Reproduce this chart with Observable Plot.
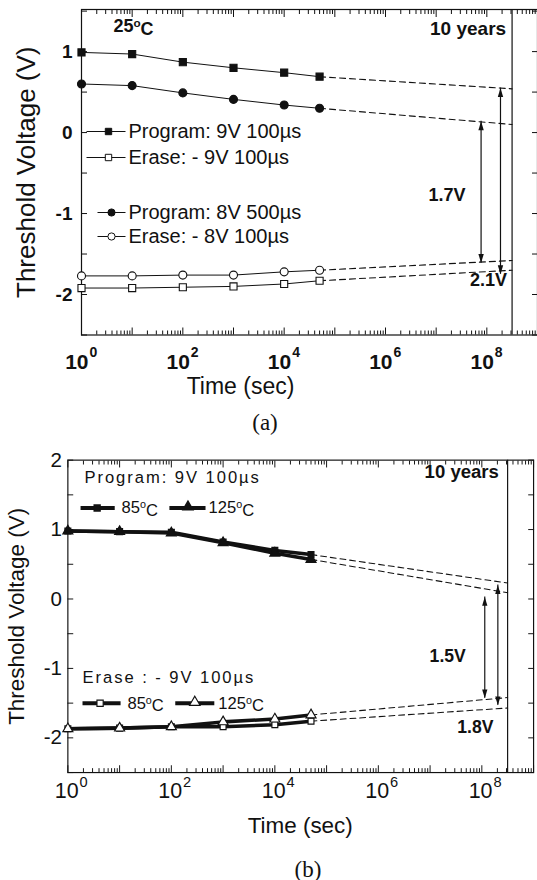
<!DOCTYPE html>
<html><head><meta charset="utf-8">
<script src="https://cdn.jsdelivr.net/npm/d3@7"></script>
<script src="https://cdn.jsdelivr.net/npm/@observablehq/plot@0.6"></script>
<style>
html,body{margin:0;padding:0;background:#fff;overflow:hidden;width:537px;height:880px}
#wrap{position:relative;width:537px;height:880px;overflow:hidden}
.cap{position:absolute;font-family:"Liberation Serif","Times New Roman",serif;font-size:23px;line-height:1;transform:translate(-50%,-50%);color:#111;white-space:nowrap;z-index:2}
svg{display:block}
</style></head><body>
<div id="wrap">
 <div id="a" style="position:absolute;left:0;top:0"></div>
 <div id="b" style="position:absolute;left:0;top:445px"></div>
 <div class="cap" style="left:265px;top:422px">(a)</div>
 <div class="cap" style="left:308px;top:869px">(b)</div>
</div>
<script>
// ---------- shared data ----------
const times = [1, 10, 100, 1000, 10000, 50000];
const tenYears = 3.15e8;
const xLabelValues = [1, 1e2, 1e4, 1e6, 1e8];
const xLabelExponents = ["0", "2", "4", "6", "8"];

// ---------- panel (a) ----------
const seriesA = ["Program: 9V 100µs", "Erase: - 9V 100µs", "Program: 8V 500µs", "Erase: - 8V 100µs"];
const program9V = [0.99, 0.97, 0.87, 0.80, 0.74, 0.69];
const erase9V = [-1.92, -1.92, -1.91, -1.90, -1.87, -1.83];
const program8V = [0.60, 0.58, 0.49, 0.41, 0.34, 0.30];
const erase8V = [-1.77, -1.77, -1.76, -1.76, -1.72, -1.70];
const tenYearA = [0.54, -1.70, 0.10, -1.58];
const arrowTimeA = [7.7e7, 1.86e8];
const arrowTopA = [0.14, 0.55];
const arrowBottomA = [-1.61, -1.75];
const arrowLabelA = ["1.7V", "2.1V"];
const yLabelsA = [-2, -1, 0, 1];
const yTicksA = [-2.5, -2, -1.5, -1, -0.5, 0, 0.5, 1, 1.5];
const tempLabelA = "25°C";

// ---------- panel (b) ----------
const seriesB = ["Program 85°C", "Program 125°C", "Erase 85°C", "Erase 125°C"];
const program85 = [0.98, 0.97, 0.96, 0.82, 0.70, 0.64];
const program125 = [0.98, 0.97, 0.95, 0.81, 0.66, 0.57];
const erase85 = [-1.87, -1.86, -1.84, -1.84, -1.81, -1.76];
const erase125 = [-1.87, -1.86, -1.84, -1.77, -1.73, -1.67];
const tenYearB = [0.23, 0.09, -1.57, -1.42];
const arrowTimeB = [1.14e8, 2.04e8];
const arrowTopB = [0.03, 0.20];
const arrowBottomB = [-1.43, -1.53];
const arrowLabelB = ["1.5V", "1.8V"];
const legendTitlesB = ["Program: 9V 100µs", "Erase : - 9V 100µs"];
const legendTempsB = ["85°C", "125°C"];
const yLabelsB = [-2, -1, 0, 1, 2];
const yTicksB = [-2.5, -2, -1.5, -1, -0.5, 0, 0.5, 1, 1.5, 2];

const yTitle = "Threshold Voltage (V)";
const xTitle = "Time (sec)";
const tenYearsLabel = "10 years";

// ---------- helpers ----------
const FONT = "'Liberation Sans', Arial, Helvetica, sans-serif";
const INK = "#111";
const xMajor = d3.range(0, 10).map(k => 10 ** k);
const xMinor = d3.range(0, 9).flatMap(k => d3.range(2, 10).map(m => m * 10 ** k));

function tidy(series, values) {
  return series.flatMap((s, i) => values[i].map((v, j) => ({series: s, t: times[j], v})));
}
function tails(series, values, ends) {
  return series.flatMap((s, i) => [
    {series: s, t: times[times.length - 1], v: values[i][values[i].length - 1]},
    {series: s, t: tenYears, v: ends[i]}
  ]);
}
function arrowRows(ts, tops, bottoms, labels) {
  return ts.map((t, i) => ({t, top: tops[i], bottom: bottoms[i], mid: (tops[i] + bottoms[i]) / 2, label: labels[i]}));
}
const headUp = {draw(c) { c.moveTo(0, 0); c.lineTo(-2.7, 9); c.lineTo(2.7, 9); c.closePath(); }};
const headDown = {draw(c) { c.moveTo(0, 0); c.lineTo(-2.7, -9); c.lineTo(2.7, -9); c.closePath(); }};
const hline = h => ({draw(c) { c.moveTo(-h, 0); c.lineTo(h, 0); }});
// text anchored to the frame, always centred on its line
const ftext = (data, o) => Plot.text(data, {lineAnchor: "middle", textAnchor: "middle", ...o});

function frameTicks(yTicks) {
  const none = () => "";
  return [
    Plot.axisX(xMajor, {anchor: "bottom", tickSize: -7, tickFormat: none, label: null}),
    Plot.axisX(xMinor, {anchor: "bottom", tickSize: -4, tickFormat: none, label: null}),
    Plot.axisX(xMajor, {anchor: "top", tickSize: -7, tickFormat: none, label: null}),
    Plot.axisX(xMinor, {anchor: "top", tickSize: -4, tickFormat: none, label: null}),
    Plot.axisY(yTicks, {anchor: "left", tickSize: -6, tickFormat: none, label: null}),
    Plot.axisY(yTicks, {anchor: "right", tickSize: -6, tickFormat: none, label: null})
  ];
}
function arrowMarks(arr) {
  return [
    Plot.ruleX(arr, {x: "t", y1: "top", y2: "bottom", stroke: INK, strokeWidth: 1.2}),
    Plot.dot(arr, {x: "t", y: "top", symbol: headUp, fill: INK, stroke: "none"}),
    Plot.dot(arr, {x: "t", y: "bottom", symbol: headDown, fill: INK, stroke: "none"})
  ];
}

// ---------- panel (a) ----------
const valuesA = [program9V, erase9V, program8V, erase8V];
const rowsA = tidy(seriesA, valuesA);
const tailsA = tails(seriesA, valuesA, tenYearA);
const arrowsA = arrowRows(arrowTimeA, arrowTopA, arrowBottomA, arrowLabelA);
const symA = ["square", "square", "circle", "circle"];
const fillA = [INK, "white", INK, "white"];

const marksA = [
  ...frameTicks(yTicksA),
  Plot.frame({stroke: INK, strokeWidth: 1.2}),
  Plot.ruleX([tenYears], {stroke: INK, strokeWidth: 1.2}),
  Plot.line(rowsA, {x: "t", y: "v", z: "series", stroke: INK, strokeWidth: 1}),
  Plot.line(tailsA, {x: "t", y: "v", z: "series", stroke: INK, strokeWidth: 1.1, strokeDasharray: "6,4"}),
  ...seriesA.map((s, i) => Plot.dot(rowsA.filter(d => d.series === s), {
    x: "t", y: "v", symbol: symA[i], r: 4, fill: fillA[i], stroke: INK, strokeWidth: 1.1})),
  ...arrowMarks(arrowsA),
  Plot.text([arrowsA[0]], {x: "t", y: "mid", text: "label", dx: -34, dy: 3, fontSize: 18, fontWeight: "bold"}),
  Plot.text([arrowsA[1]], {x: "t", y: "bottom", text: "label", dx: -12, dy: 6, fontSize: 18, fontWeight: "bold"}),
  ftext([tenYears], {x: d => d, frameAnchor: "top", text: () => tenYearsLabel, dx: -44, dy: 19, fontSize: 19, fontWeight: "bold"}),
  ftext([tempLabelA], {frameAnchor: "top-left", text: d => d, dx: 52, dy: 17, fontSize: 18, fontWeight: "bold"}),
  // legend
  ...seriesA.flatMap((s, i) => {
    const dy = [122, 148, 203, 227][i];
    const lineC = i < 2 ? 24.5 : 30, half = i < 2 ? 19.5 : 14, mk = i < 2 ? 27 : 30;
    return [
      Plot.dot([s], {frameAnchor: "top-left", dx: lineC, dy, symbol: hline(half), fill: "none", stroke: INK, strokeWidth: 1}),
      Plot.dot([s], {frameAnchor: "top-left", dx: mk, dy, symbol: symA[i], r: 3.6, fill: fillA[i], stroke: INK, strokeWidth: 1}),
      ftext([s], {frameAnchor: "top-left", dx: 47, dy, text: d => d, textAnchor: "start", fontSize: 20})
    ];
  }),
  // axis labels
  Plot.axisY(yLabelsA, {anchor: "left", tickSize: 0, tickPadding: 9, tickFormat: d => String(d), fontSize: 19, fontWeight: "bold", label: null}),
  ftext(xLabelValues, {x: d => d, frameAnchor: "bottom", text: () => "10", textAnchor: "end", dx: 7, dy: 27, fontSize: 21, fontWeight: "bold"}),
  ftext(xLabelValues, {x: d => d, frameAnchor: "bottom", text: (d, i) => xLabelExponents[i], textAnchor: "start", dx: 8, dy: 18, fontSize: 14, fontWeight: "bold"}),
  ftext([yTitle], {frameAnchor: "left", text: d => d, rotate: -90, dx: -55, fontSize: 26}),
  ftext([xTitle], {frameAnchor: "bottom-left", text: d => d, dx: 159, dy: 52, fontSize: 23})
];

const chartA = Plot.plot({
  width: 537, height: 400,
  marginLeft: 81, marginRight: 0, marginTop: 9, marginBottom: 65.5,
  x: {type: "log", domain: [1, 1e9]},
  y: {domain: [-2.5, 1.52]},
  style: {fontFamily: FONT, fontSize: "16px", color: INK, background: "white", overflow: "visible"},
  marks: marksA
});
document.getElementById("a").appendChild(chartA);

// ---------- panel (b) ----------
const valuesB = [program85, program125, erase85, erase125];
const rowsB = tidy(seriesB, valuesB);
const tailsB = tails(seriesB, valuesB, tenYearB);
const arrowsB = arrowRows(arrowTimeB, arrowTopB, arrowBottomB, arrowLabelB);
const symB = ["square", "triangle", "square", "triangle"];
const fillB = [INK, INK, "white", "white"];

const legendB = [
  // program block
  ftext([legendTitlesB[0]], {frameAnchor: "top-left", text: d => d, textAnchor: "start", dx: 17, dy: 18, fontSize: 17}),
  Plot.dot([0], {frameAnchor: "top-left", dx: 30.5, dy: 49, symbol: hline(17.5), fill: "none", stroke: INK, strokeWidth: 4}),
  Plot.dot([0], {frameAnchor: "top-left", dx: 30, dy: 49, symbol: symB[0], r: 3.4, fill: fillB[0], stroke: INK}),
  ftext([legendTempsB[0]], {frameAnchor: "top-left", text: d => d, textAnchor: "start", dx: 55, dy: 49, fontSize: 17}),
  Plot.dot([0], {frameAnchor: "top-left", dx: 122.5, dy: 49, symbol: hline(18.5), fill: "none", stroke: INK, strokeWidth: 4}),
  Plot.dot([0], {frameAnchor: "top-left", dx: 123, dy: 48, symbol: symB[1], r: 3.8, fill: fillB[1], stroke: INK}),
  ftext([legendTempsB[1]], {frameAnchor: "top-left", text: d => d, textAnchor: "start", dx: 144, dy: 49, fontSize: 17}),
  // erase block
  ftext([legendTitlesB[1]], {frameAnchor: "top-left", text: d => d, textAnchor: "start", dx: 15, dy: 223, fontSize: 17}),
  Plot.dot([0], {frameAnchor: "top-left", dx: 34.5, dy: 249, symbol: hline(19.5), fill: "none", stroke: INK, strokeWidth: 4}),
  Plot.dot([0], {frameAnchor: "top-left", dx: 33, dy: 249, symbol: symB[2], r: 3.6, fill: fillB[2], stroke: INK, strokeWidth: 1.2}),
  ftext([legendTempsB[0]], {frameAnchor: "top-left", text: d => d, textAnchor: "start", dx: 61, dy: 249, fontSize: 17}),
  Plot.dot([0], {frameAnchor: "top-left", dx: 130, dy: 249, symbol: hline(20), fill: "none", stroke: INK, strokeWidth: 4}),
  Plot.dot([0], {frameAnchor: "top-left", dx: 130, dy: 248, symbol: symB[3], r: 4, fill: fillB[3], stroke: INK, strokeWidth: 1.2}),
  ftext([legendTempsB[1]], {frameAnchor: "top-left", text: d => d, textAnchor: "start", dx: 154, dy: 249, fontSize: 17})
];

const marksB = [
  ...frameTicks(yTicksB),
  Plot.frame({stroke: INK, strokeWidth: 1.2}),
  Plot.ruleX([tenYears], {stroke: INK, strokeWidth: 1.2}),
  Plot.line(tailsB, {x: "t", y: "v", z: "series", stroke: INK, strokeWidth: 1.1, strokeDasharray: "6,4"}),
  Plot.line(rowsB, {x: "t", y: "v", z: "series", stroke: INK, strokeWidth: 3.6}),
  ...seriesB.map((s, i) => Plot.dot(rowsB.filter(d => d.series === s), {
    x: "t", y: "v", symbol: symB[i], r: symB[i] === "square" ? 3.4 : 3.8, fill: fillB[i], stroke: INK, strokeWidth: 1.2})),
  ...arrowMarks(arrowsB),
  Plot.text([arrowsB[0]], {x: "t", y: "mid", text: "label", dx: -38, dy: 9, fontSize: 18, fontWeight: "bold"}),
  Plot.text([arrowsB[1]], {x: "t", y: "bottom", text: "label", dx: -23, dy: 23, fontSize: 18, fontWeight: "bold"}),
  ftext([tenYears], {x: d => d, frameAnchor: "top", text: () => tenYearsLabel, dx: -47, dy: 12, fontSize: 19, fontWeight: "bold"}),
  ...legendB,
  Plot.axisY(yLabelsB, {anchor: "left", tickSize: 0, tickPadding: 6, tickFormat: d => String(d), fontSize: 21, label: null}),
  ftext(xLabelValues, {x: d => d, frameAnchor: "bottom", text: () => "10", textAnchor: "end", dx: 11, dy: 19, fontSize: 22}),
  ftext(xLabelValues, {x: d => d, frameAnchor: "bottom", text: (d, i) => xLabelExponents[i], textAnchor: "start", dx: 12, dy: 10, fontSize: 15}),
  ftext([yTitle], {frameAnchor: "left", text: d => d, rotate: -90, dx: -52, fontSize: 23}),
  ftext([xTitle], {frameAnchor: "bottom-left", text: d => d, dx: 238, dy: 55, fontSize: 23})
];

const chartB = Plot.plot({
  width: 550, height: 410,
  marginLeft: 69, marginRight: 4, marginTop: 15, marginBottom: 75,
  x: {type: "log", domain: [1, 1e9]},
  y: {domain: [-2.5, 2]},
  style: {fontFamily: FONT, fontSize: "16px", color: INK, background: "transparent", overflow: "visible"},
  marks: marksB
});
document.getElementById("b").appendChild(chartB);

// ---------- text refinements: superscript "o" in °C, spaced legend titles ----------
for (const svg of [chartA, chartB]) {
  svg.querySelectorAll("text").forEach(t => {
    const s = t.textContent;
    if (legendTitlesB.includes(s) && svg === chartB) t.setAttribute("letter-spacing", "2");
    if (s.includes("°C") && t.children.length === 0) {
      const [pre, post] = s.split("°");
      t.textContent = "";
      const ns = "http://www.w3.org/2000/svg";
      const a = document.createElementNS(ns, "tspan"); a.textContent = pre;
      const o = document.createElementNS(ns, "tspan"); o.textContent = "o"; o.setAttribute("font-size", "65%"); o.setAttribute("dy", "-0.45em");
      const c = document.createElementNS(ns, "tspan"); c.textContent = post; c.setAttribute("dy", "0.45em");
      t.append(a, o, c);
    }
  });
}
</script>
</body></html>
